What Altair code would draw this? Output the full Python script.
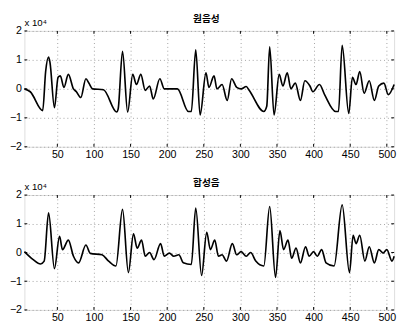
import altair as alt
import pandas as pd

# Waveform vertices (x sample index, amplitude in units of 1e4)
top_x = [5, 13, 30, 34, 38, 40, 46, 51, 54, 59, 65, 72, 76, 82, 89, 93, 98, 113, 131, 133, 139, 146, 153, 158, 164, 170, 176, 181, 190, 196, 214, 229, 233, 239, 245, 253, 257, 264, 268, 275, 282, 288, 295, 301, 308, 312, 332, 336, 340, 346, 353, 358, 364, 369, 375, 382, 388, 395, 399, 408, 415, 430, 434, 439, 448, 453, 458, 463, 469, 476, 483, 489, 496, 502, 510]
top_y = [0.0, -0.1, -0.75, 0.6, 1.1, 0.9, -0.65, 0.4, 0.45, 0.05, 0.5, 0.0, -0.1, -0.3, 0.35, 0.2, 0.0, -0.03, -0.8, -0.7, 1.3, -0.8, 0.5, 0.15, 0.5, -0.05, 0.1, -0.35, 0.35, 0.0, 0.0, -0.78, -0.78, 1.35, -0.9, 0.55, 0.05, 0.45, 0.0, 0.15, -0.4, 0.35, 0.05, 0.0, 0.08, -0.05, -0.78, -0.6, 1.45, -0.9, 0.5, 0.1, 0.55, 0.0, 0.2, -0.4, 0.28, 0.1, -0.1, 0.15, -0.2, -0.78, -0.78, 1.5, -0.85, 0.4, 0.15, 0.6, -0.15, 0.28, -0.4, 0.1, 0.2, -0.2, 0.15]

bot_x = [5, 17, 27, 32, 38, 46, 53, 57, 65, 72, 79, 89, 95, 111, 120, 130, 139, 147, 154, 159, 165, 170, 176, 182, 191, 196, 203, 209, 216, 222, 233, 239, 247, 254, 259, 265, 270, 275, 281, 289, 295, 301, 308, 314, 321, 332, 340, 348, 354, 359, 365, 370, 376, 382, 389, 394, 400, 405, 411, 417, 428, 439, 449, 454, 458, 463, 470, 476, 483, 489, 495, 500, 507, 510]
bot_y = [0.03, -0.25, -0.4, -0.3, 1.38, -0.56, 0.56, 0.1, 0.43, -0.13, -0.36, 0.26, -0.03, -0.08, -0.3, -0.47, 1.5, -0.7, 0.65, 0.15, 0.43, -0.13, 0.0, -0.25, 0.31, -0.13, -0.02, -0.13, -0.08, -0.36, -0.42, 1.55, -0.8, 0.7, 0.1, 0.43, -0.13, -0.08, -0.3, 0.31, -0.08, 0.03, -0.13, 0.0, -0.3, -0.47, 1.6, -0.87, 0.76, 0.1, 0.43, -0.2, 0.15, -0.36, 0.2, -0.13, 0.03, -0.13, 0.1, -0.36, -0.47, 1.66, -0.7, 0.6, 0.31, 0.6, -0.3, 0.2, -0.36, 0.1, -0.02, 0.1, -0.3, -0.13]

x_ticks = [50, 100, 150, 200, 250, 300, 350, 400, 450, 500]
y_ticks = [-2, -1, 0, 1, 2]
titles = ["원음성", "합성음"]
exp_label = "x 10⁴"

FONT = "Liberation Sans"

x_axis = alt.Axis(values=x_ticks, title=None, grid=True, gridDash=[1, 3],
                  gridColor="#888", gridOpacity=0.8, ticks=False, domain=False,
                  labelFont=FONT, labelFontSize=11, labelColor="black",
                  labelPadding=2, labelOverlap=False)
y_axis = alt.Axis(values=y_ticks, title=None, grid=True, gridDash=[1, 3],
                  gridColor="#888", gridOpacity=0.8, ticks=False, domain=False,
                  labelFont=FONT, labelFontSize=11, labelColor="black",
                  labelPadding=3, labelOverlap=False)


def panel(xs, ys, title, W, H):
    df = pd.DataFrame({"n": xs, "v": ys})
    x_scale = alt.Scale(domain=[5, 510], nice=False, zero=False)
    y_scale = alt.Scale(domain=[-2, 2], nice=False)
    line = alt.Chart(df).mark_line(color="black", strokeWidth=1.7,
                                   interpolate="monotone").encode(
        x=alt.X("n:Q", scale=x_scale, axis=x_axis),
        y=alt.Y("v:Q", scale=y_scale, axis=y_axis),
    )
    xt = pd.DataFrame({"t": x_ticks})
    xticks_b = alt.Chart(xt).mark_rule(color="black", strokeWidth=1).encode(
        x=alt.X("t:Q", scale=x_scale, axis=x_axis), y=alt.value(H),
        y2=alt.value(H - 3))
    xticks_t = alt.Chart(xt).mark_rule(color="black", strokeWidth=1).encode(
        x=alt.X("t:Q", scale=x_scale, axis=x_axis), y=alt.value(0),
        y2=alt.value(3))
    yt = pd.DataFrame({"t": y_ticks})
    yticks_l = alt.Chart(yt).mark_rule(color="black", strokeWidth=1).encode(
        y=alt.Y("t:Q", scale=y_scale, axis=y_axis), x=alt.value(0),
        x2=alt.value(3))
    yticks_r = alt.Chart(yt).mark_rule(color="black", strokeWidth=1).encode(
        y=alt.Y("t:Q", scale=y_scale, axis=y_axis), x=alt.value(W),
        x2=alt.value(W - 3))
    ttl = alt.Chart(pd.DataFrame({"s": [title]})).mark_text(
        font="Noto Sans CJK KR", fontSize=10, fontWeight="bold", color="black",
        align="center", baseline="top").encode(
        text="s:N", x=alt.value(W / 2 - 3), y=alt.value(-17))
    exp = alt.Chart(pd.DataFrame({"s": [exp_label]})).mark_text(
        font=FONT, fontSize=10, color="black", align="left",
        baseline="alphabetic").encode(
        text="s:N", x=alt.value(0), y=alt.value(-5))
    return alt.layer(line, xticks_b, xticks_t, yticks_l, yticks_r, ttl,
                     exp).properties(width=W, height=H)


chart = alt.vconcat(panel(top_x, top_y, titles[0], 383, 120),
                    panel(bot_x, bot_y, titles[1], 383, 119),
                    spacing=18).properties(padding=0).configure_view(
    stroke="black", strokeWidth=1.2).configure(background="white")

chart.save("out.html", embed_options={"renderer": "svg", "actions": False})
